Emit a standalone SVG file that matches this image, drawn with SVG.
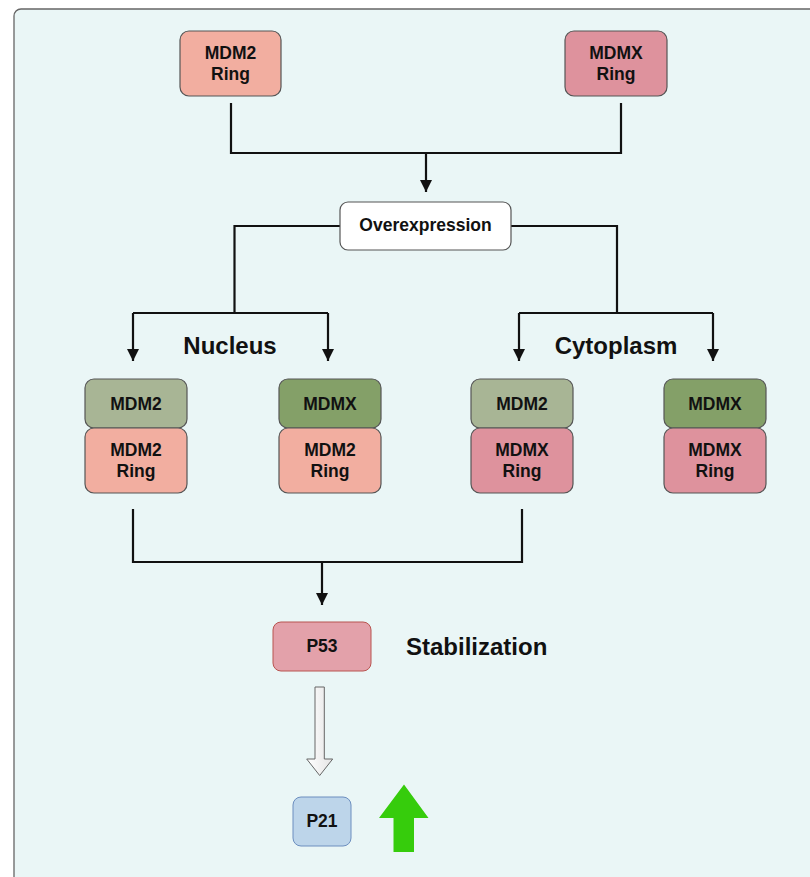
<svg xmlns="http://www.w3.org/2000/svg" width="810" height="877" viewBox="0 0 810 877">
<defs>
<style>
.t{font-family:"Liberation Sans",Arial,sans-serif;font-weight:bold;font-size:17.5px;fill:#111;text-anchor:middle}
.h{font-family:"Liberation Sans",Arial,sans-serif;font-weight:bold;font-size:24px;fill:#111}
.box{stroke:#555;stroke-width:1.2}
.ring2{fill:#F2AEA0}
.ringx{fill:#DE929D}
.g2{fill:#A8B595}
.gx{fill:#84A068}
.ln{fill:none;stroke:#111;stroke-width:2.2}
</style>
<marker id="ah" markerUnits="userSpaceOnUse" markerWidth="14" markerHeight="14" refX="12" refY="6" orient="auto">
<path d="M0,0 L12,6 L0,12 Z" fill="#111"/>
</marker>
<linearGradient id="wg" x1="0" y1="0" x2="1" y2="0">
<stop offset="0" stop-color="#ffffff"/>
<stop offset="1" stop-color="#e4e4e4"/>
</linearGradient>
</defs>
<rect x="14" y="9" width="820" height="900" rx="7" fill="#EAF6F6" stroke="#666" stroke-width="1.3"/>

<g id="connectors">
<path class="ln" d="M231,103 V153 H621 V103"/>
<path class="ln" d="M426,153 V192" marker-end="url(#ah)"/>
<path class="ln" d="M340,226 H234.5 V313"/>
<path class="ln" d="M511,226 H617 V313"/>
<path class="ln" d="M133,313 H328"/>
<path class="ln" d="M133,313 V361" marker-end="url(#ah)"/>
<path class="ln" d="M328,313 V361" marker-end="url(#ah)"/>
<path class="ln" d="M519,313 H713"/>
<path class="ln" d="M519,313 V361" marker-end="url(#ah)"/>
<path class="ln" d="M713,313 V361" marker-end="url(#ah)"/>
<path class="ln" d="M133,509 V562 H522 V509"/>
<path class="ln" d="M322,562 V605" marker-end="url(#ah)"/>
<path d="M315,687 H324.3 V759 H332.7 L319.7,775.5 L306.7,759 H315 Z" fill="url(#wg)" stroke="#666" stroke-width="1"/>
</g>

<g id="mdm2ring-top">
<rect class="box ring2" x="180" y="31" width="101" height="65" rx="9"/>
<text class="t" x="230.5" y="59">MDM2</text>
<text class="t" x="230.5" y="80">Ring</text>
</g>
<g id="mdmxring-top">
<rect class="box ringx" x="565" y="31" width="102" height="65" rx="9"/>
<text class="t" x="616" y="59">MDMX</text>
<text class="t" x="616" y="80">Ring</text>
</g>
<g id="overexpression">
<rect class="box" x="340" y="202" width="171" height="48" rx="8" fill="#fff"/>
<text class="t" x="425.5" y="231">Overexpression</text>
</g>

<text class="h" x="230" y="354" text-anchor="middle">Nucleus</text>
<text class="h" x="616" y="354" text-anchor="middle">Cytoplasm</text>

<g id="n-mdm2">
<rect class="box g2" x="85" y="379" width="102" height="49" rx="9"/>
<text class="t" x="136" y="410">MDM2</text>
</g>
<g id="n-mdm2ring">
<rect class="box ring2" x="85" y="428" width="102" height="65" rx="9"/>
<text class="t" x="136" y="456">MDM2</text>
<text class="t" x="136" y="477">Ring</text>
</g>
<g id="n-mdmx">
<rect class="box gx" x="279" y="379" width="102" height="49" rx="9"/>
<text class="t" x="330" y="410">MDMX</text>
</g>
<g id="n-mdmx-ring">
<rect class="box ring2" x="279" y="428" width="102" height="65" rx="9"/>
<text class="t" x="330" y="456">MDM2</text>
<text class="t" x="330" y="477">Ring</text>
</g>
<g id="c-mdm2">
<rect class="box g2" x="471" y="379" width="102" height="49" rx="9"/>
<text class="t" x="522" y="410">MDM2</text>
</g>
<g id="c-mdm2-ring">
<rect class="box ringx" x="471" y="428" width="102" height="65" rx="9"/>
<text class="t" x="522" y="456">MDMX</text>
<text class="t" x="522" y="477">Ring</text>
</g>
<g id="c-mdmx">
<rect class="box gx" x="664" y="379" width="102" height="49" rx="9"/>
<text class="t" x="715" y="410">MDMX</text>
</g>
<g id="c-mdmx-ring">
<rect class="box ringx" x="664" y="428" width="102" height="65" rx="9"/>
<text class="t" x="715" y="456">MDMX</text>
<text class="t" x="715" y="477">Ring</text>
</g>

<g id="p53">
<rect x="273" y="622" width="98" height="49" rx="8" fill="#E3A1AA" stroke="#B85450" stroke-width="1"/>
<text class="t" x="322" y="652">P53</text>
</g>
<text class="h" x="406" y="655">Stabilization</text>

<g id="p21">
<rect x="293" y="797" width="58" height="49" rx="8" fill="#BDD5EA" stroke="#6C8EBF" stroke-width="1"/>
<text class="t" x="322" y="827">P21</text>
</g>
<g id="up-arrow">
<path d="M404,784.5 L428.5,818 H414 V852 H393.5 V818 H379 Z" fill="#36CC0C"/>
</g>
</svg>
